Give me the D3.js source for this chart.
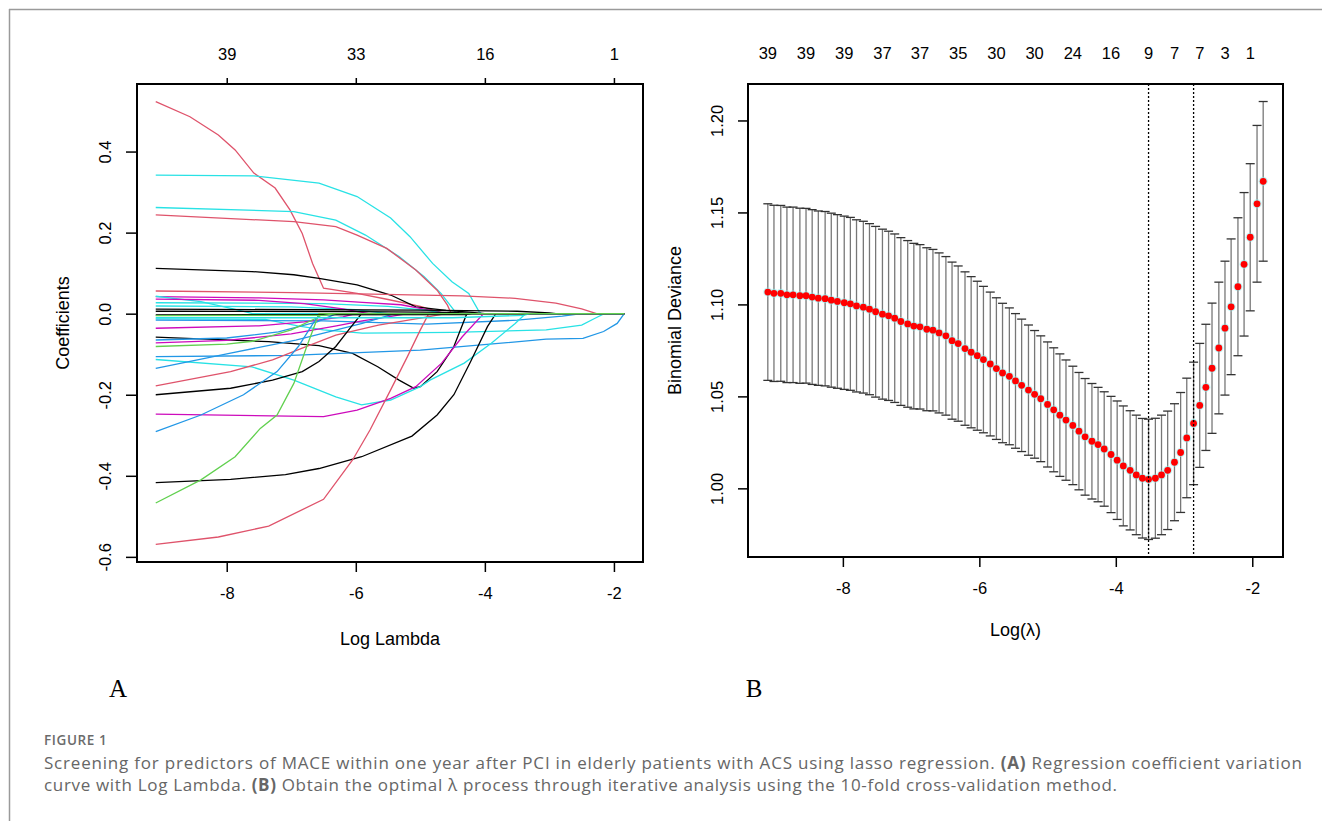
<!DOCTYPE html>
<html>
<head>
<meta charset="utf-8">
<script src="https://cdn.jsdelivr.net/npm/d3@7"></script>
<style>
  body { margin: 0; background: #fff; }
  svg { display: block; }
  .rfont { font-family: "Liberation Sans", Arial, sans-serif; fill: #000; }
</style>
</head>
<body>
<div id="figure"></div>
<script>
//R default palette used by matplot (col = 1:6)
var palette = ["#000000", "#DF536B", "#61D04F", "#2297E6", "#28E2E5", "#CD0BBC"];

//panel A: colour index of every coefficient path
var pathColour = [1, 4, 4, 1, 0, 1, 5, 4, 4, 4, 5, 0, 0, 4, 3, 5, 0, 3, 5, 2, 3, 4, 3, 1, 0, 5, 3, 0, 2, 1, 4, 0, 2];

//panel A: coefficient paths, [log lambda, coefficient]
var pathPoints = [
  [[-9.10,0.523],[-8.57,0.486],[-8.13,0.441],[-7.87,0.404],[-7.58,0.347],[-7.25,0.31],[-7.02,0.256],[-6.83,0.198],[-6.67,0.124],[-6.50,0.063],[-5.98,0.05],[-5.5,0.035],[-5.0,0.018],[-4.7,0.004],[-4.6,0],[-1.84,0]],
  [[-9.10,0.342],[-7.58,0.340],[-6.57,0.322],[-5.98,0.289],[-5.46,0.236],[-5.16,0.19],[-4.81,0.124],[-4.51,0.079],[-4.25,0.05],[-4.09,0.005],[-4.05,0],[-1.84,0]],
  [[-9.10,0.262],[-6.96,0.252],[-6.31,0.231],[-5.85,0.194],[-5.33,0.141],[-4.94,0.091],[-4.68,0.05],[-4.48,0.009],[-4.44,0],[-1.84,0]],
  [[-9.10,0.244],[-6.96,0.227],[-6.31,0.215],[-5.98,0.194],[-5.52,0.161],[-5.07,0.108],[-4.74,0.058],[-4.58,0.021],[-4.52,0],[-1.84,0]],
  [[-9.10,0.112],[-7.61,0.104],[-6.96,0.096],[-6.57,0.087],[-5.98,0.071],[-5.46,0.046],[-5.07,0.017],[-4.6,0.008],[-4.2,0.003],[-4.0,0],[-1.84,0]],
  [[-9.10,0.056],[-6.96,0.052],[-4.35,0.044],[-3.53,0.038],[-2.9,0.026],[-2.5,0.012],[-2.27,0],[-1.84,0]],
  [[-9.10,0.042],[-7.5,0.039],[-6.5,0.034],[-5.9,0.028],[-5.3,0.022],[-4.9,0.01],[-4.6,0],[-1.84,0]],
  [[-9.10,0.043],[-8.4,0.03],[-7.9,0.012],[-7.6,0],[-1.84,0]],
  [[-9.10,0.027],[-6.5,0.025],[-5.5,0.018],[-4.9,0.008],[-4.6,0],[-1.84,0]],
  [[-9.10,0.019],[-7.0,0.017],[-6.0,0.01],[-5.5,0],[-1.84,0]],
  [[-9.10,0.036],[-7.5,0.033],[-6.8,0.025],[-6.2,0.012],[-5.8,0],[-1.84,0]],
  [[-9.10,0.011],[-5.0,0.009],[-3.5,0.006],[-3.0,0.002],[-2.9,0],[-1.84,0]],
  [[-9.10,0.006],[-6.0,0.005],[-4.5,0.003],[-4.1,0],[-1.84,0]],
  [[-9.10,-0.013],[-7.4,-0.014],[-6.9,-0.03],[-6.5,-0.04],[-5.9,-0.048],[-4.5,-0.046],[-3.05,-0.04],[-2.5,-0.028],[-2.3,-0.012],[-2.15,0],[-1.84,0]],
  [[-9.10,-0.016],[-6.5,-0.018],[-4.9,-0.026],[-3.5,-0.016],[-2.8,-0.006],[-2.5,0],[-1.84,0]],
  [[-9.10,-0.036],[-7.5,-0.03],[-6.8,-0.02],[-6.2,-0.008],[-6.0,0],[-1.84,0]],
  [[-9.10,-0.058],[-7.35,-0.069],[-6.57,-0.079],[-6.05,-0.098],[-5.66,-0.131],[-5.33,-0.164],[-5.10,-0.184],[-5.0,-0.18],[-4.74,-0.143],[-4.48,-0.081],[-4.28,0],[-1.84,0]],
  [[-9.10,-0.065],[-8.0,-0.06],[-7.2,-0.045],[-6.6,-0.02],[-6.3,0],[-1.84,0]],
  [[-9.10,-0.072],[-8.0,-0.066],[-7.0,-0.05],[-6.3,-0.03],[-5.9,-0.018],[-5.5,-0.008],[-5.2,0],[-1.84,0]],
  [[-9.10,-0.081],[-8.0,-0.075],[-7.6,-0.068],[-7.0,-0.04],[-6.6,-0.01],[-6.5,0],[-1.84,0]],
  [[-9.10,-0.106],[-7.0,-0.103],[-5.0,-0.09],[-3.05,-0.063],[-2.48,-0.061],[-2.16,-0.044],[-1.95,-0.024],[-1.84,0]],
  [[-9.10,-0.113],[-7.61,-0.131],[-6.96,-0.164],[-6.31,-0.205],[-5.91,-0.225],[-5.46,-0.213],[-5.0,-0.18],[-4.85,-0.164],[-4.32,-0.122],[-3.9,-0.073],[-3.53,-0.024],[-3.37,0],[-1.84,0]],
  [[-9.10,-0.135],[-7.96,-0.098],[-6.93,-0.065],[-5.9,-0.024],[-5.5,-0.005],[-5.4,0],[-1.84,0]],
  [[-9.10,-0.178],[-7.94,-0.143],[-7.29,-0.114],[-6.83,-0.085],[-6.31,-0.053],[-5.65,-0.028],[-5.0,-0.011],[-4.6,0],[-1.84,0]],
  [[-9.10,-0.2],[-7.94,-0.184],[-7.29,-0.164],[-6.83,-0.143],[-6.57,-0.118],[-6.31,-0.081],[-6.11,-0.04],[-5.91,0],[-1.84,0]],
  [[-9.10,-0.248],[-6.50,-0.254],[-5.98,-0.238],[-5.46,-0.209],[-5.07,-0.18],[-4.67,-0.122],[-4.35,-0.057],[-4.02,0],[-1.84,0]],
  [[-9.10,-0.291],[-8.40,-0.25],[-7.74,-0.2],[-7.22,-0.143],[-6.89,-0.081],[-6.63,-0.016],[-6.55,0],[-1.84,0]],
  [[-9.10,-0.417],[-7.94,-0.409],[-7.09,-0.397],[-6.57,-0.382],[-5.91,-0.353],[-5.13,-0.302],[-4.74,-0.25],[-4.48,-0.2],[-4.22,-0.118],[-3.96,-0.032],[-3.83,0],[-1.84,0]],
  [[-9.10,-0.467],[-8.40,-0.41],[-7.87,-0.353],[-7.48,-0.283],[-7.22,-0.25],[-6.96,-0.172],[-6.76,-0.081],[-6.57,0],[-1.84,0]],
  [[-9.10,-0.569],[-8.13,-0.551],[-7.35,-0.524],[-6.50,-0.458],[-6.05,-0.361],[-5.78,-0.287],[-5.46,-0.188],[-5.20,-0.106],[-5.0,-0.04],[-4.87,0],[-1.84,0]],
  [[-9.10,-0.01],[-4.5,-0.01],[-3.4,-0.004],[-3.3,0],[-1.84,0]],
  [[-9.10,-0.003],[-4.3,-0.002],[-4.2,0],[-1.84,0]],
  [[-9.10,-0.005],[-6.5,-0.004],[-6.3,0],[-1.84,0]]
];

//panel A: axis ticks
var aBottomTicks = [-8, -6, -4, -2];
var aTopLabels = ["39", "33", "16", "1"];
var aLeftTicks = [-0.6, -0.4, -0.2, 0.0, 0.2, 0.4];

//panel B: lambda sequence (log scale) of the cross-validation
var logLambda = [-9.10,-9.01,-8.91,-8.82,-8.73,-8.63,-8.54,-8.45,-8.36,-8.26,
  -8.17,-8.08,-7.98,-7.89,-7.80,-7.70,-7.61,-7.52,-7.42,-7.33,
  -7.24,-7.15,-7.05,-6.96,-6.87,-6.77,-6.68,-6.59,-6.49,-6.40,
  -6.31,-6.21,-6.12,-6.03,-5.94,-5.84,-5.75,-5.66,-5.56,-5.47,
  -5.38,-5.28,-5.19,-5.10,-5.00,-4.91,-4.82,-4.73,-4.63,-4.54,
  -4.45,-4.35,-4.26,-4.17,-4.07,-3.98,-3.89,-3.79,-3.70,-3.61,
  -3.52,-3.42,-3.33,-3.24,-3.14,-3.05,-2.96,-2.86,-2.77,-2.68,
  -2.59,-2.49,-2.40,-2.31,-2.21,-2.12,-2.03,-1.93,-1.84];

//panel B: mean cross-validated binomial deviance
var cvMean = [1.1067,1.1060,1.1060,1.1052,1.1052,1.1047,1.1047,1.1040,1.1034,1.1031,
  1.1023,1.1016,1.1009,1.1003,1.0992,1.0985,1.0974,1.0960,1.0947,1.0938,
  1.0925,1.0907,1.0894,1.0882,1.0878,1.0865,1.0860,1.0845,1.0829,1.0803,
  1.0787,1.0760,1.0740,1.0721,1.0700,1.0676,1.0651,1.0627,1.0609,1.0584,
  1.0560,1.0534,1.0511,1.0487,1.0456,1.0427,1.0398,1.0371,1.0342,1.0311,
  1.0280,1.0256,1.0238,1.0214,1.0184,1.0153,1.0122,1.0098,1.0073,1.0055,
  1.0049,1.0055,1.0073,1.0098,1.0142,1.0195,1.0274,1.0353,1.0451,1.0549,
  1.0653,1.0763,1.0871,1.0987,1.1096,1.1218,1.1365,1.1547,1.1669];

//panel B: standard error of the deviance (error bar half length)
var cvSd = [0.0480,0.0479,0.0478,0.0477,0.0477,0.0476,0.0475,0.0475,0.0474,0.0474,
  0.0473,0.0472,0.0471,0.0470,0.0468,0.0467,0.0465,0.0464,0.0462,0.0460,
  0.0458,0.0456,0.0453,0.0450,0.0447,0.0443,0.0439,0.0435,0.0431,0.0427,
  0.0422,0.0417,0.0411,0.0405,0.0398,0.0391,0.0385,0.0379,0.0372,0.0366,
  0.0360,0.0354,0.0347,0.0342,0.0340,0.0337,0.0333,0.0327,0.0322,0.0319,
  0.0317,0.0314,0.0311,0.0311,0.0316,0.0322,0.0326,0.0324,0.0325,0.0325,
  0.0327,0.0326,0.0325,0.0322,0.0318,0.0326,0.0325,0.0333,0.0337,0.0343,
  0.0354,0.0358,0.0364,0.0369,0.0375,0.0390,0.0400,0.0426,0.0434];

//panel B: number of non-zero coefficients shown on top, at these lambda indices
var bTopIndex = [0, 6, 12, 18, 24, 30, 36, 42, 48, 54, 60, 64, 68, 72, 76];
var bTopLabels = ["39","39","39","37","37","35","30","30","24","16","9","7","7","3","1"];
var bBottomTicks = [-8, -6, -4, -2];
var bLeftTicks = [1.00, 1.05, 1.10, 1.15, 1.20];

//lambda.min and lambda.1se indices
var minIndex = 60;
var seIndex = 67;

//caption text
var figureLabel = "FIGURE 1";
var captionLines = [
  [["Screening for predictors of MACE within one year after PCI in elderly patients with ACS using lasso regression. ", false], ["(A)", true], [" Regression coefficient variation", false]],
  [["curve with Log Lambda. ", false], ["(B)", true], [" Obtain the optimal \u03bb process through iterative analysis using the 10-fold cross-validation method.", false]]
];

//R style range padding (4% each side)
function padExtent(ext) {
    var d = (ext[1] - ext[0]) * 0.04;
    return [ext[0] - d, ext[1] + d];
}

var svgWidth = 1322;
var svgHeight = 821;

var svg = d3.select("#figure")
    .append("svg")
    .attr("width", svgWidth)
    .attr("height", svgHeight);

svg.append("rect").attr("width", svgWidth).attr("height", svgHeight).attr("fill", "#fff");

//page frame
svg.append("line").attr("x1", 9).attr("x2", svgWidth).attr("y1", 9.5).attr("y2", 9.5)
    .attr("stroke", "#9a9a9a").attr("stroke-width", 1.5);
svg.append("line").attr("x1", 9.5).attr("x2", 9.5).attr("y1", 9).attr("y2", svgHeight)
    .attr("stroke", "#9a9a9a").attr("stroke-width", 1.5);

// ---------------- panel A ----------------
var boxA = {left: 137, right: 643, top: 84, bottom: 562};

var allCoef = [];
pathPoints.forEach(function(p) { p.forEach(function(d) { allCoef.push(d[1]); }); });

var xA = d3.scaleLinear()
    .domain(padExtent([logLambda[0], logLambda[logLambda.length - 1]]))
    .range([boxA.left, boxA.right]);

var yA = d3.scaleLinear()
    .domain(padExtent(d3.extent(allCoef)))
    .range([boxA.bottom, boxA.top]);

var gA = svg.append("g");

var lineA = d3.line()
    .x(d => xA(d[0]))
    .y(d => yA(d[1]));

gA.selectAll(".coef")
    .data(pathPoints)
    .enter()
    .append("path")
    .attr("class", "coef")
    .attr("d", lineA)
    .attr("fill", "none")
    .attr("stroke", (d, i) => palette[pathColour[i]])
    .attr("stroke-width", 1.3);

//bottom axis
var axA = gA.append("g")
    .attr("transform", `translate(0, ${boxA.bottom})`)
    .call(d3.axisBottom(xA).tickValues(aBottomTicks).tickSize(10).tickPadding(15).tickFormat(d => String(d)));

//top axis with number of variables
var axAtop = gA.append("g")
    .attr("transform", `translate(0, ${boxA.top})`)
    .call(d3.axisTop(xA).tickValues(aBottomTicks).tickSize(6).tickPadding(18)
        .tickFormat((d, i) => aTopLabels[i]));

//left axis, labels turned like R
var ayA = gA.append("g")
    .attr("transform", `translate(${boxA.left}, 0)`)
    .call(d3.axisLeft(yA).tickValues(aLeftTicks).tickSize(11).tickFormat(d => d.toFixed(1)));

ayA.selectAll(".tick text")
    .attr("x", null)
    .attr("dy", null)
    .attr("text-anchor", "middle")
    .attr("transform", "translate(-26, 0) rotate(-90)");

[axA, axAtop, ayA].forEach(function(a) {
    a.select(".domain").remove();
    a.selectAll(".tick line").attr("stroke", "#000").attr("stroke-width", 1.5);
    a.selectAll(".tick text").attr("class", "rfont").attr("font-size", 16.5).attr("fill", "#000");
});

gA.append("rect")
    .attr("x", boxA.left).attr("y", boxA.top)
    .attr("width", boxA.right - boxA.left).attr("height", boxA.bottom - boxA.top)
    .attr("fill", "none").attr("stroke", "#000").attr("stroke-width", 2);

gA.append("text")
    .attr("class", "rfont")
    .attr("x", (boxA.left + boxA.right) / 2)
    .attr("y", 645)
    .attr("text-anchor", "middle")
    .attr("font-size", 18)
    .text("Log Lambda");

gA.append("text")
    .attr("class", "rfont")
    .attr("transform", `translate(68.5, ${(boxA.top + boxA.bottom) / 2}) rotate(-90)`)
    .attr("text-anchor", "middle")
    .attr("font-size", 18)
    .text("Coefficients");

// ---------------- panel B ----------------
var boxB = {left: 748, right: 1283, top: 84, bottom: 557};

var cvUp = cvMean.map((m, i) => m + cvSd[i]);
var cvLo = cvMean.map((m, i) => m - cvSd[i]);

var xB = d3.scaleLinear()
    .domain(padExtent([logLambda[0], logLambda[logLambda.length - 1]]))
    .range([boxB.left, boxB.right]);

var yB = d3.scaleLinear()
    .domain(padExtent([d3.min(cvLo), d3.max(cvUp)]))
    .range([boxB.bottom, boxB.top]);

var gB = svg.append("g");

//error bars
var bars = gB.selectAll(".bar")
    .data(logLambda)
    .enter()
    .append("g")
    .attr("class", "bar");

bars.append("line")
    .attr("x1", d => xB(d)).attr("x2", d => xB(d))
    .attr("y1", (d, i) => yB(cvUp[i])).attr("y2", (d, i) => yB(cvLo[i]))
    .attr("stroke", "#777").attr("stroke-width", 1.3);

bars.append("line")
    .attr("x1", d => xB(d) - 4.5).attr("x2", d => xB(d) + 4.5)
    .attr("y1", (d, i) => yB(cvUp[i])).attr("y2", (d, i) => yB(cvUp[i]))
    .attr("stroke", "#333").attr("stroke-width", 1.3);

bars.append("line")
    .attr("x1", d => xB(d) - 4.5).attr("x2", d => xB(d) + 4.5)
    .attr("y1", (d, i) => yB(cvLo[i])).attr("y2", (d, i) => yB(cvLo[i]))
    .attr("stroke", "#333").attr("stroke-width", 1.3);

//faint halo then red points
gB.selectAll(".halo")
    .data(logLambda)
    .enter()
    .append("circle")
    .attr("class", "halo")
    .attr("cx", d => xB(d))
    .attr("cy", (d, i) => yB(cvMean[i]))
    .attr("r", 4.6)
    .attr("fill", "#8ff0f0")
    .attr("opacity", 0.55);

gB.selectAll(".pt")
    .data(logLambda)
    .enter()
    .append("circle")
    .attr("class", "pt")
    .attr("cx", d => xB(d))
    .attr("cy", (d, i) => yB(cvMean[i]))
    .attr("r", 3.4)
    .attr("fill", "#ff0000");

//lambda.min and lambda.1se
[minIndex, seIndex].forEach(function(k) {
    gB.append("line")
        .attr("x1", xB(logLambda[k])).attr("x2", xB(logLambda[k]))
        .attr("y1", boxB.top).attr("y2", boxB.bottom)
        .attr("stroke", "#000").attr("stroke-width", 1.3)
        .attr("stroke-dasharray", "2,2");
});

var axB = gB.append("g")
    .attr("transform", `translate(0, ${boxB.bottom})`)
    .call(d3.axisBottom(xB).tickValues(bBottomTicks).tickSize(10).tickPadding(15).tickFormat(d => String(d)));

var ayB = gB.append("g")
    .attr("transform", `translate(${boxB.left}, 0)`)
    .call(d3.axisLeft(yB).tickValues(bLeftTicks).tickSize(10).tickFormat(d => d.toFixed(2)));

ayB.selectAll(".tick text")
    .attr("x", null)
    .attr("dy", null)
    .attr("text-anchor", "middle")
    .attr("transform", "translate(-25, 0) rotate(-90)");

[axB, ayB].forEach(function(a) {
    a.select(".domain").remove();
    a.selectAll(".tick line").attr("stroke", "#000").attr("stroke-width", 1.5);
    a.selectAll(".tick text").attr("class", "rfont").attr("font-size", 16.5).attr("fill", "#000");
});

//number of non-zero coefficients above the box
gB.selectAll(".nz")
    .data(bTopIndex)
    .enter()
    .append("text")
    .attr("class", "rfont nz")
    .attr("x", d => xB(logLambda[d]))
    .attr("y", 59)
    .attr("text-anchor", "middle")
    .attr("font-size", 16.5)
    .text((d, i) => bTopLabels[i]);

gB.append("rect")
    .attr("x", boxB.left).attr("y", boxB.top)
    .attr("width", boxB.right - boxB.left).attr("height", boxB.bottom - boxB.top)
    .attr("fill", "none").attr("stroke", "#000").attr("stroke-width", 2);

gB.append("text")
    .attr("class", "rfont")
    .attr("x", (boxB.left + boxB.right) / 2)
    .attr("y", 636)
    .attr("text-anchor", "middle")
    .attr("font-size", 18)
    .text("Log(\u03bb)");

gB.append("text")
    .attr("class", "rfont")
    .attr("transform", `translate(681, ${(boxB.top + boxB.bottom) / 2}) rotate(-90)`)
    .attr("text-anchor", "middle")
    .attr("font-size", 18)
    .text("Binomial Deviance");

// ---------------- panel letters and caption ----------------
svg.append("text")
    .attr("x", 118).attr("y", 697)
    .attr("text-anchor", "middle")
    .attr("font-family", "Liberation Serif, serif")
    .attr("font-size", 25)
    .text("A");

svg.append("text")
    .attr("x", 754).attr("y", 697)
    .attr("text-anchor", "middle")
    .attr("font-family", "Liberation Serif, serif")
    .attr("font-size", 25)
    .text("B");

svg.append("text")
    .attr("x", 44).attr("y", 745)
    .attr("font-family", "Open Sans, sans-serif")
    .attr("font-weight", 600)
    .attr("font-size", 13.5)
    .attr("letter-spacing", 0.6)
    .attr("fill", "#6b6b6b")
    .text(figureLabel);

var captionY = [769, 791];
var captionWidth = [1258, 1073];

captionLines.forEach(function(parts, li) {
    var t = svg.append("text")
        .attr("x", 44).attr("y", captionY[li])
        .attr("font-family", "Open Sans, sans-serif")
        .attr("font-size", 17)
        .attr("fill", "#666")
        .attr("textLength", captionWidth[li])
        .attr("lengthAdjust", "spacing");
    parts.forEach(function(p) {
        t.append("tspan")
            .attr("font-weight", p[1] ? 700 : 400)
            .text(p[0]);
    });
});
</script>
</body>
</html>
